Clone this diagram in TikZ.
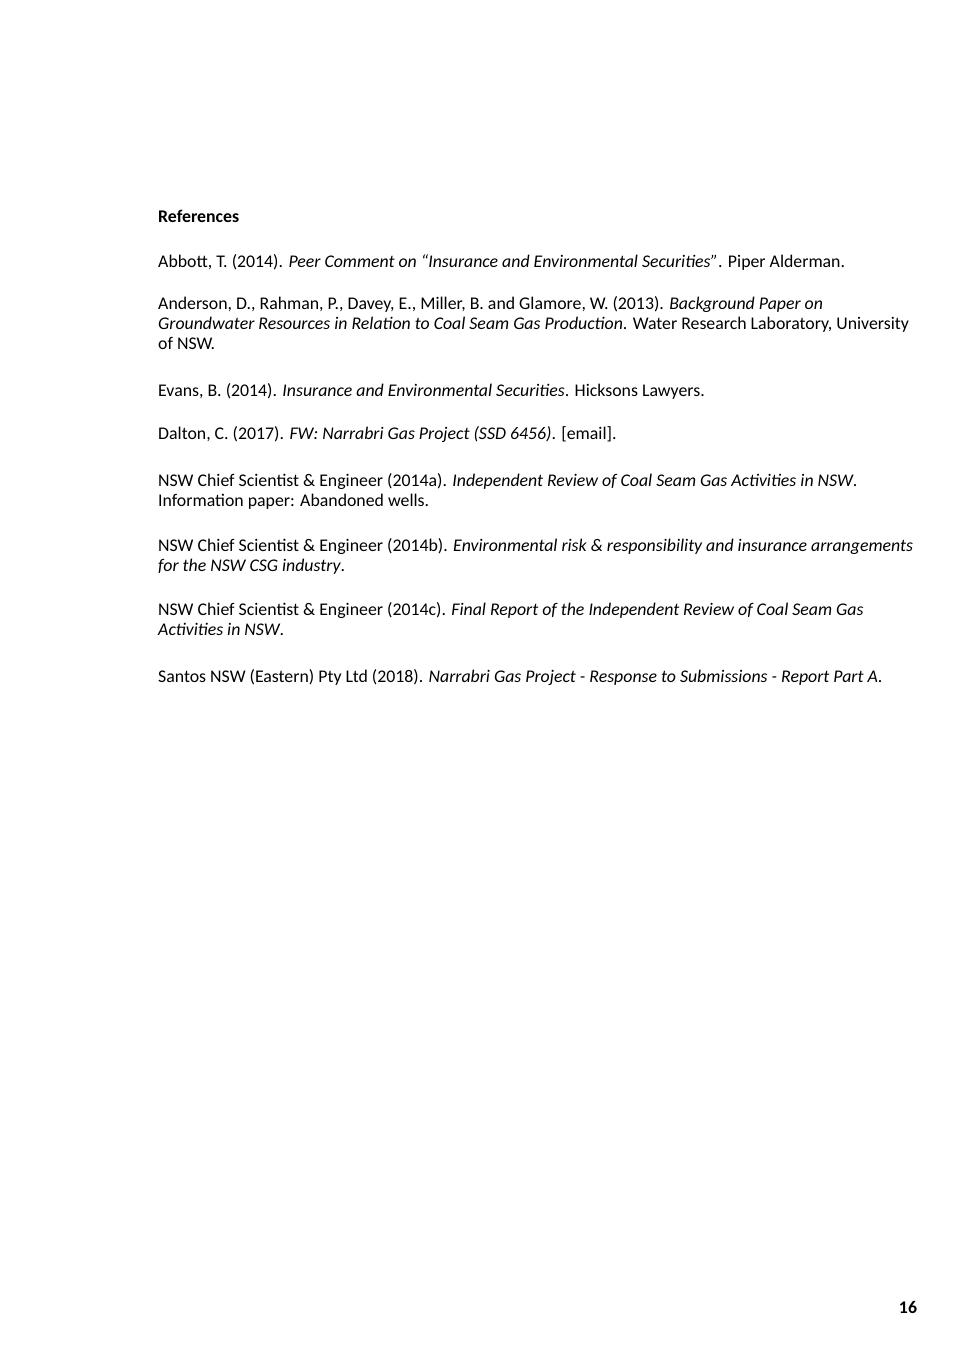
\documentclass[tikz,border=0pt]{standalone}
\usepackage{fontspec}
\setmainfont{Carlito}
\usetikzlibrary{positioning}
\begin{document}
\begin{tikzpicture}[
    x=1pt, y=1pt,
    ref/.style={anchor=north west, align=left, inner sep=0pt, font=\fontsize{17.8}{20}\selectfont},
    heading/.style={anchor=west, inner sep=0pt, font=\fontsize{17.8}{20}\selectfont\bfseries}
  ]
  \useasboundingbox (0,0) rectangle (967,-1366);
  \fill[white] (0,0) rectangle (967,-1366);

  \node[heading] (title) at (158,-216) {References};

  \node[ref] (abbott) at (158,-254) {Abbott, T. (2014). \textit{Peer Comment on ``Insurance and Environmental Securities''}. Piper Alderman.};
  \node[ref] (anderson) at (158,-296) {Anderson, D., Rahman, P., Davey, E., Miller, B. and Glamore, W. (2013). \textit{Background Paper on}\\
    \textit{Groundwater Resources in Relation to Coal Seam Gas Production}. Water Research Laboratory, University\\
    of NSW.};
  \node[ref] (evans) at (158,-383) {Evans, B. (2014). \textit{Insurance and Environmental Securities}. Hicksons Lawyers.};
  \node[ref] (dalton) at (158,-426) {Dalton, C. (2017). \textit{FW: Narrabri Gas Project (SSD 6456)}. [email].};
  \node[ref] (chiefa) at (158,-473) {NSW Chief Scientist \& Engineer (2014a). \textit{Independent Review of Coal Seam Gas Activities in NSW}.\\
    Information paper: Abandoned wells.};
  \node[ref] (chiefb) at (158,-538) {NSW Chief Scientist \& Engineer (2014b). \textit{Environmental risk \& responsibility and insurance arrangements}\\
    \textit{for the NSW CSG industry}.};
  \node[ref] (chiefc) at (158,-602) {NSW Chief Scientist \& Engineer (2014c). \textit{Final Report of the Independent Review of Coal Seam Gas}\\
    \textit{Activities in NSW}.};
  \node[ref] (santos) at (158,-669) {Santos NSW (Eastern) Pty Ltd (2018). \textit{Narrabri Gas Project - Response to Submissions - Report Part A}.};

  \node[heading, anchor=center] (page) at (908,-1307) {16};
\end{tikzpicture}
\end{document}
